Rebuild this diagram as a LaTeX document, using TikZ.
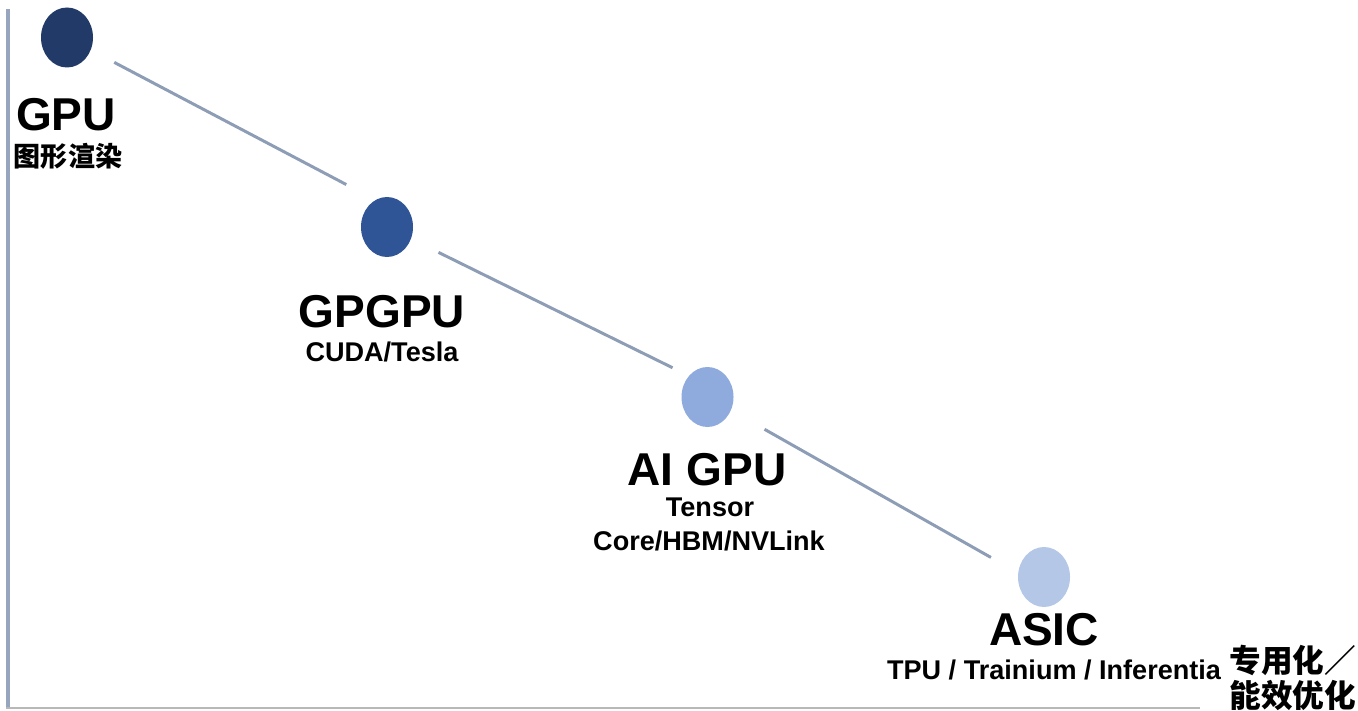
\documentclass[tikz,border=0pt]{standalone}
\usepackage{fontspec}
\setmainfont{Liberation Sans}
\newfontfamily\cjk{Noto Sans CJK SC}
\usetikzlibrary{shapes.geometric}

\definecolor{gpucol}{HTML}{213A68}
\definecolor{gpgpucol}{HTML}{2F5597}
\definecolor{aigpucol}{HTML}{8FAADC}
\definecolor{asiccol}{HTML}{B4C7E7}
\definecolor{linkcol}{HTML}{8D9DB6}
\definecolor{yaxiscol}{HTML}{97A5BF}
\definecolor{xaxiscol}{HTML}{B8B8B8}

\begin{document}
\begin{tikzpicture}[
  dot/.style={ellipse, inner sep=0, minimum width=.52cm, minimum height=.6cm},
  title/.style={anchor=base, inner sep=0, font=\bfseries\fontsize{13.1}{15}\selectfont},
  sub/.style={anchor=base, inner sep=0, font=\bfseries\fontsize{7.7}{9}\selectfont},
  cjksub/.style={sub, font=\cjk\bfseries\fontsize{7.7}{9}\selectfont},
  axislabel/.style={anchor=base west, inner sep=0, font=\cjk\bfseries\fontsize{9}{10}\selectfont},
  link/.style={draw=linkcol, line width=.85pt}
]
\useasboundingbox (0,0) rectangle (13.58,7.10);

\coordinate (top) at (.08,7.01);
\coordinate (origin) at (.08,.02);
\coordinate (right) at (12,.02);
\draw[yaxiscol, line width=1pt] (top)--(origin);
\draw[xaxiscol, line width=.7pt] (.06,.02)--(right);

\node[dot, fill=gpucol] (gpu) at (.67,6.725) {};
\node[dot, fill=gpgpucol] (gpgpu) at (3.87,4.83) {};
\node[dot, fill=aigpucol] (aigpu) at (7.075,3.13) {};
\node[dot, fill=asiccol] (asic) at (10.44,1.33) {};

\draw[link, shorten <=.26cm, shorten >=.46cm] (gpu)--([yshift=.21cm]gpgpu.center);
\draw[link, shorten <=.30cm, shorten >=.39cm] (gpgpu)--([yshift=.12cm]aigpu.center);
\draw[link, shorten <=.38cm, shorten >=.61cm] (aigpu)--([yshift=-.105cm]asic.center);

\node[title] (gpulabel) at (.66,5.79) {GPU};
\node[cjksub] (gpunote) at (.68,5.43) {图形渲染};

\node[title] (gpgpulabel) at (3.82,3.82) {GPGPU};
\node[sub] (gpgpunote) at (3.82,3.49) {CUDA/Tesla};

\node[title] (aigpulabel) at (7.07,2.25) {AI GPU};
\node[sub] (aigpunote) at (7.10,1.94) {Tensor};
\node[sub] (aigpunote2) at (7.09,1.60) {Core/HBM/NVLink};

\node[title] (asiclabel) at (10.44,.65) {ASIC};
\node[sub] (asicnote) at (10.54,.31) {TPU / Trainium / Inferentia};

\node[axislabel] (xlabel) at (12.29,.38) {专用化／};
\node[axislabel] (xlabel2) at (12.29,.03) {能效优化};
\end{tikzpicture}
\end{document}
